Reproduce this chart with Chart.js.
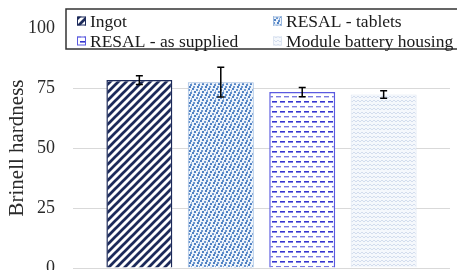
<!DOCTYPE html>
<html>
<head>
<meta charset="utf-8">
<script src="https://cdn.jsdelivr.net/npm/chart.js@4/dist/chart.umd.min.js"></script>
<style>
html,body{margin:0;padding:0;background:#fff;overflow:hidden;}
#wrap{position:relative;width:457px;height:290px;}
canvas{display:block;}
</style>
</head>
<body>
<div id="wrap"><canvas id="c" width="457" height="290" style="width:457px;height:290px"></canvas></div>
<script>
const seriesNames = ['Ingot', 'RESAL - tablets', 'RESAL - as supplied', 'Module battery housing'];
const hardness = [78.3, 77.4, 73.3, 72.3];
const errors = [1.8, 6.2, 1.9, 1.6];
const yTicks = [0, 25, 50, 75, 100];
const axisTitle = 'Brinell hardness';

const SERIF = '"Liberation Serif", "Times New Roman", serif';

function makeTile(w, h, draw) {
  const c = document.createElement('canvas');
  c.width = w; c.height = h;
  const g = c.getContext('2d');
  draw(g, w, h);
  return document.getElementById('c').getContext('2d').createPattern(c, 'repeat');
}
const patterns = [
  makeTile(8, 8, (g, w, h) => {
    g.fillStyle = '#ffffff'; g.fillRect(0, 0, w, h);
    g.strokeStyle = '#1c2a5a'; g.lineWidth = 2.7;
    for (let k = -1; k <= 1; k++) {
      g.beginPath(); g.moveTo(k * w - 1, h + 1); g.lineTo(k * w + w + 1, -1); g.stroke();
    }
  }),
  makeTile(8, 8, (g) => {
    g.fillStyle = '#eef4fb'; g.fillRect(0, 0, 8, 8);
    const dots = [[0,0,'#4f80c2'],[4,1,'#6d98d0'],[2,3,'#4f80c2'],[6,4,'#5f8ecb'],[1,6,'#6d98d0'],[5,6,'#4f80c2'],[7,2,'#8fb0dc']];
    dots.forEach(d => { g.fillStyle = d[2]; g.fillRect(d[0], d[1], 2, 2); });
  }),
  makeTile(8, 10, (g) => {
    g.fillStyle = '#ffffff'; g.fillRect(0, 0, 8, 10);
    g.fillStyle = '#3535d0'; g.fillRect(0, 1, 5, 1.6);
    g.fillStyle = '#7b7be0'; g.fillRect(4, 6, 5, 1.4); g.fillRect(0, 6, 1, 1.4);
  }),
  makeTile(8, 8, (g) => {
    g.fillStyle = '#f5f8fc'; g.fillRect(0, 0, 8, 8);
    g.strokeStyle = '#d3ddee'; g.lineWidth = 1;
    g.beginPath(); g.moveTo(0, 2); g.lineTo(2, 0); g.lineTo(4, 2); g.lineTo(6, 0); g.lineTo(8, 2); g.stroke();
    g.beginPath(); g.moveTo(0, 6); g.lineTo(2, 4); g.lineTo(4, 6); g.lineTo(6, 4); g.lineTo(8, 6); g.stroke();
  })
];
const borders = ['#1c2a5a', '#9ab8de', '#5a5ae0', '#dde5f1'];
const borderWidths = [1.5, 1, 1.5, 1];

const errorBars = {
  id: 'errorBars',
  afterDatasetsDraw(chart) {
    const ctx = chart.ctx, ys = chart.scales.y;
    ctx.save();
    ctx.strokeStyle = '#000'; ctx.lineWidth = 1.5;
    chart.data.datasets.forEach((ds, i) => {
      const bar = chart.getDatasetMeta(i).data[0];
      const v = ds.data[0], e = errors[i];
      const yt = ys.getPixelForValue(v + e), yb = ys.getPixelForValue(v - e);
      const x = bar.x, cw = 3.5;
      ctx.beginPath();
      ctx.moveTo(x, yt); ctx.lineTo(x, yb);
      ctx.moveTo(x - cw, yt); ctx.lineTo(x + cw, yt);
      ctx.moveTo(x - cw, yb); ctx.lineTo(x + cw, yb);
      ctx.stroke();
    });
    ctx.restore();
  }
};

const boxLegend = {
  id: 'boxLegend',
  afterDraw(chart) {
    const ctx = chart.ctx;
    ctx.save();
    ctx.fillStyle = '#fff';
    ctx.fillRect(66, 9, 400, 40);
    ctx.strokeStyle = '#333'; ctx.lineWidth = 1.5;
    ctx.strokeRect(66, 9, 400, 40);
    ctx.font = '17.5px ' + SERIF;
    ctx.textBaseline = 'middle';
    const cols = [77, 273], rows = [21, 41];
    chart.data.datasets.forEach((ds, i) => {
      const x = cols[i % 2], y = rows[Math.floor(i / 2)];
      ctx.fillStyle = ds.backgroundColor;
      ctx.fillRect(x, y - 4.5, 9, 9);
      ctx.strokeStyle = ds.borderColor; ctx.lineWidth = 1;
      ctx.strokeRect(x + 0.5, y - 4, 8, 8);
      ctx.fillStyle = '#1a1a1a';
      ctx.fillText(ds.label, x + 13, y + 1);
    });
    ctx.restore();
  }
};

new Chart(document.getElementById('c'), {
  type: 'bar',
  data: {
    labels: [''],
    datasets: seriesNames.map((n, i) => ({
      label: n,
      data: [hardness[i]],
      backgroundColor: patterns[i],
      borderColor: borders[i],
      borderWidth: borderWidths[i],
      categoryPercentage: 0.864,
      barPercentage: 0.81
    }))
  },
  options: {
    responsive: false,
    maintainAspectRatio: false,
    animation: false,
    devicePixelRatio: 1,
    layout: { padding: { left: 0, right: 7, top: 28, bottom: 22 } },
    plugins: { legend: { display: false }, tooltip: { enabled: false } },
    scales: {
      x: { display: false },
      y: {
        min: 0, max: 100,
        afterBuildTicks(s) { s.ticks = yTicks.map(v => ({ value: v })); },
        afterFit(s) { s.width = 73; s.paddingTop = 0; s.paddingBottom = 0; },
        ticks: {
          padding: 18,
          color: '#2a2a2a',
          font: { family: SERIF, size: 18 }
        },
        grid: { color: '#d9d9d9', lineWidth: 1, drawTicks: false },
        border: { display: false },
        title: {
          display: true, text: axisTitle, color: '#2a2a2a',
          font: { family: SERIF, size: 21 },
          padding: { top: 5, bottom: 0 }
        }
      }
    }
  },
  plugins: [errorBars, boxLegend]
});
</script>
</body>
</html>
